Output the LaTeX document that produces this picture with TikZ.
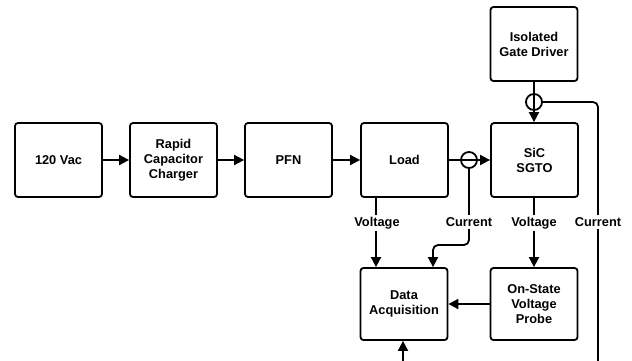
\documentclass[tikz,border=0pt]{standalone}
\usepackage{fontspec}
\setmainfont{Liberation Sans}
\usetikzlibrary{arrows.meta}
\begin{document}
\begin{tikzpicture}[x=1pt,y=-1pt,
  font=\fontsize{12.8}{15}\selectfont\bfseries,
  line width=1.8pt,
  blk/.style={draw,rounded corners=3pt,minimum width=87pt,minimum height=74pt,inner sep=0pt,align=center},
  arr/.style={-{Triangle[length=10pt,width=10pt]}},
  lbl/.style={fill=white,inner sep=2pt},
  ring/.style={draw,circle,minimum size=16pt,inner sep=0pt}]
\useasboundingbox (0,0) rectangle (632,360);
\node[blk] (vac) at (58.5,160) {120 Vac};
\node[blk] (rcc) at (173.5,160) {Rapid\\Capacitor\\Charger};
\node[blk] (pfn) at (288.5,160) {PFN};
\node[blk] (load) at (404.5,160) {Load};
\node[blk] (sgto) at (534.5,160) {SiC\\SGTO};
\node[blk] (igd) at (534,44) {Isolated\\Gate Driver};
\node[blk,minimum height=72pt] (daq) at (404,304) {Data\\Acquisition};
\node[blk,minimum height=72pt] (probe) at (534,304) {On-State\\Voltage\\Probe};
\coordinate (c1) at (469,160);
\coordinate (c2) at (534,102);
\coordinate (bot) at (403,362);
\coordinate (rend) at (598,362);

\draw[arr] (vac) -- (rcc);
\draw[arr] (rcc) -- (pfn);
\draw[arr] (pfn) -- (load);
\draw[arr] (load) -- (sgto);
\draw[arr] (igd.south -| c2) -- (sgto.north -| c2);
\node[ring] (r1) at (c1) {};
\node[ring] (r2) at (c2) {};
\draw[rounded corners=5pt] (r2.east) -| (rend);
\draw[arr,rounded corners=5pt] (r1.south) |- (433,245) -- (daq.north -| 433,0);
\draw[arr] (load.south -| 376,0) -- (daq.north -| 376,0);
\draw[arr] (sgto.south -| probe.north) -- (probe.north);
\draw[arr] (probe.west) -- (daq.east);
\draw[arr] (bot) -- (daq.south -| bot);
\node[lbl] (v1) at (377,223) {Voltage};
\node[lbl] (i1) at (469,222) {Current};
\node[lbl] (v2) at (534,223) {Voltage};
\node[lbl] (i2) at (598,222) {Current};
\end{tikzpicture}
\end{document}
